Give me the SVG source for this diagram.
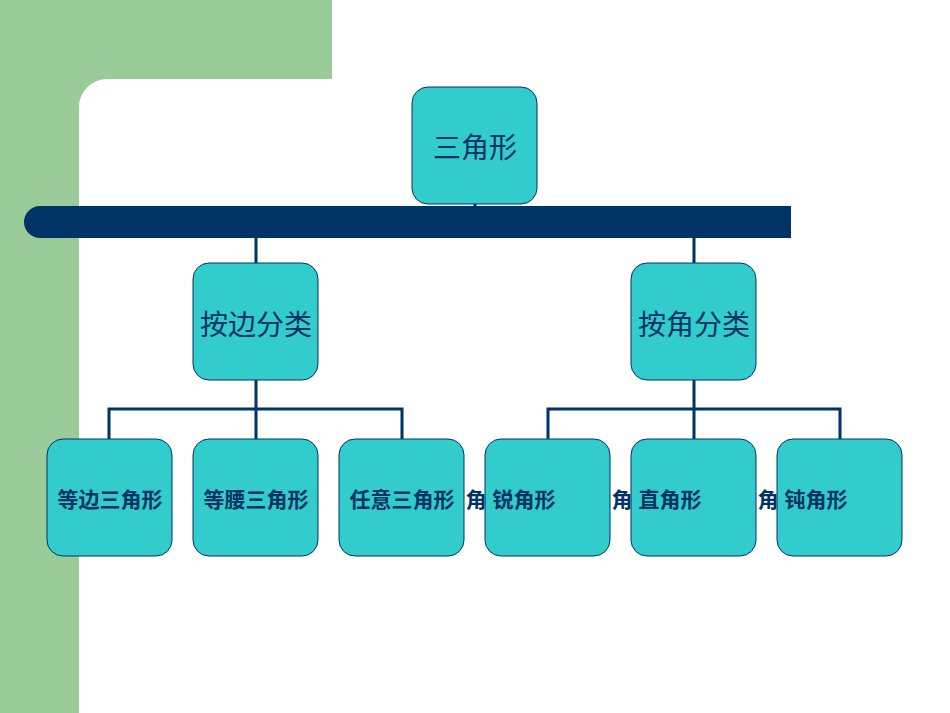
<svg xmlns="http://www.w3.org/2000/svg" width="950" height="713" viewBox="0 0 950 713">
<style>
.b{fill:#33CCCC;stroke:#003366;stroke-width:1}
.t{font-family:"Liberation Sans","Noto Sans CJK SC",sans-serif;fill:#003366;text-anchor:middle}
.s{font-size:21px;font-weight:bold}
.c{fill:none;stroke:#003366;stroke-width:3}
</style>
<rect width="950" height="713" fill="#fff"/>
<path d="M0 0H332V79H107A28 28 0 0 0 79 107V713H0Z" fill="#99CC99"/>
<path d="M40 206H791V238H40A16 16 0 0 1 40 206Z" fill="#003366"/>
<g id="connectors">
<path class="c" d="M475 204V206M256 238V263M694 238V263M256 380V409M109 439V409H402V439M256 409V439M694 380V409M548 439V409H840V439M694 409V439"/>
</g>
<g id="n0"><rect class="b" x="412" y="87" width="125" height="117" rx="16"/><text class="t" x="475" y="158" font-size="28">三角形</text></g>
<g id="n1"><rect class="b" x="193" y="263" width="125" height="117" rx="16"/><text class="t" x="256" y="335" font-size="28">按边分类</text></g>
<g id="n2"><rect class="b" x="631" y="263" width="125" height="117" rx="16"/><text class="t" x="694" y="335" font-size="28">按角分类</text></g>
<g id="n3"><rect class="b" x="47" y="439" width="125" height="117" rx="16"/><text class="t s" x="110" y="507">等边三角形</text></g>
<g id="n4"><rect class="b" x="193" y="439" width="125" height="117" rx="16"/><text class="t s" x="256" y="507">等腰三角形</text></g>
<g id="n5"><rect class="b" x="339" y="439" width="125" height="117" rx="16"/><text class="t s" x="402" y="507">任意三角形</text></g>
<g id="n6"><rect class="b" x="485" y="439" width="125" height="117" rx="16"/><text class="t s" x="476" y="507">角</text><text class="t s" x="524" y="507">锐角形</text></g>
<g id="n7"><rect class="b" x="631" y="439" width="125" height="117" rx="16"/><text class="t s" x="622" y="507">角</text><text class="t s" x="670" y="507">直角形</text></g>
<g id="n8"><rect class="b" x="777" y="439" width="125" height="117" rx="16"/><text class="t s" x="768" y="507">角</text><text class="t s" x="816" y="507">钝角形</text></g>
</svg>
